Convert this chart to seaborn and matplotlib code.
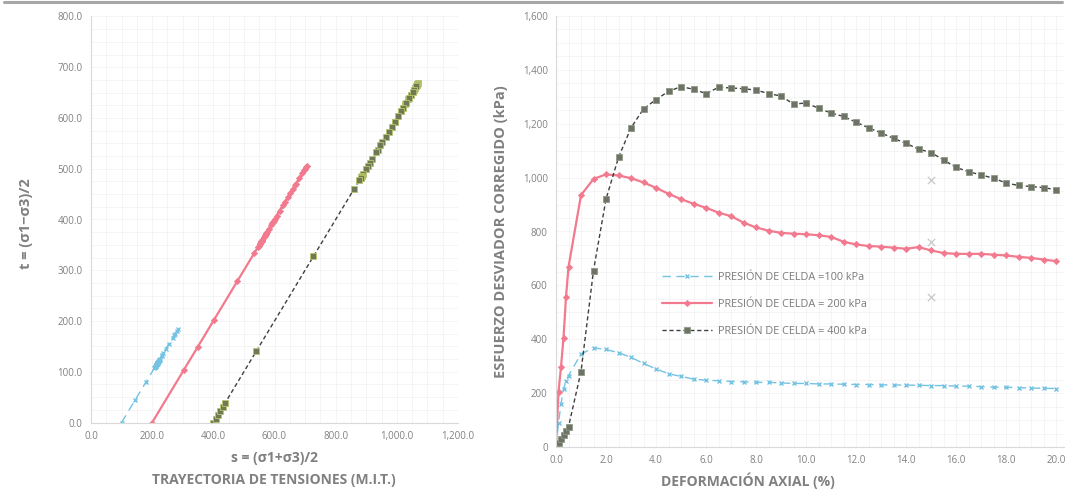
import matplotlib
matplotlib.use('Agg')
import matplotlib.pyplot as plt
import seaborn as sns
import numpy as np
import pandas as pd
from matplotlib.ticker import FuncFormatter, MultipleLocator, AutoMinorLocator
from matplotlib.lines import Line2D

# strain (%) and corrected deviator stress (kPa) for the three cell pressures
strain = [0, 0.1, 0.2, 0.3, 0.4, 0.5, 1.0, 1.5, 2.0, 2.5, 3.0, 3.5, 4.0, 4.5,
          5.0, 5.5, 6.0, 6.5, 7.0, 7.5, 8.0, 8.5, 9.0, 9.5, 10.0, 10.5, 11.0,
          11.5, 12.0, 12.5, 13.0, 13.5, 14.0, 14.5, 15.0, 15.5, 16.0, 16.5,
          17.0, 17.5, 18.0, 18.5, 19.0, 19.5, 20.0]
q100 = [0, 90, 160, 215, 245, 265, 345, 368, 362, 350, 333, 310, 290, 272,
        262, 252, 248, 246, 243, 242, 240, 240, 238, 236, 236, 234, 234,
        233, 232, 232, 231, 230, 230, 229, 228, 228, 226, 226,
        224, 222, 222, 220, 219, 218, 217]
q200 = [0, 205, 297, 405, 557, 668, 935, 995, 1012, 1008, 998, 982, 962, 940,
        920, 903, 888, 870, 857, 833, 815, 803, 795, 792, 790, 786, 780,
        762, 752, 746, 744, 740, 736, 742, 730, 720, 717, 717,
        717, 714, 711, 706, 702, 696, 690]
q400 = [0, 15, 30, 45, 60, 75, 280, 655, 920, 1075, 1185, 1255, 1290, 1320,
        1338, 1328, 1312, 1335, 1333, 1330, 1325, 1312, 1303, 1273, 1277, 1258, 1240,
        1227, 1206, 1185, 1166, 1146, 1127, 1106, 1093, 1066, 1038, 1022,
        1010, 998, 980, 971, 967, 963, 955]
cell_pressures = [100, 200, 400]
labels = ["PRESIÓN DE CELDA =100 kPa", "PRESIÓN DE CELDA = 200 kPa",
          "PRESIÓN DE CELDA = 400 kPa"]

# stray grey markers near 15 %
stray_x = [15, 15, 15]
stray_y = [990, 760, 555]

sns.set_theme(style="white")
plt.rcParams['font.family'] = ['Open Sans', 'DejaVu Sans']

GREY_TXT = '#808080'
SPINE = '#d9d9d9'
GRID = '#f1f1f1'

styles = [
    dict(color='#74c3e3', linestyle=(0, (6, 4)), lw=1.0, marker='x', markersize=3.5,
         markeredgecolor='#74c3e3', markeredgewidth=1.0),
    dict(color='#f27a8e', linestyle='-', lw=1.6, marker='D', markersize=3.2,
         markeredgecolor='#f27a8e', markeredgewidth=0.5),
    dict(color='#3f3f3f', linestyle=(0, (3, 2)), lw=1.0, marker='s', markersize=4,
         markerfacecolor='#6d7366', markeredgecolor='#8e9a84', markeredgewidth=0.6),
]

fig = plt.figure(figsize=(10.65, 4.94), dpi=100)
ax1 = fig.add_axes([91 / 1065, (494 - 422.5) / 494, 367 / 1065, 406 / 494])
ax2 = fig.add_axes([556 / 1065, (494 - 447) / 494, 509 / 1065, 431 / 494])

# ---- left: stress path (s, t) ----
for q, s3, st in zip([q100, q200, q400], cell_pressures, styles):
    q = np.array(q, dtype=float)
    df = pd.DataFrame({"s": s3 + q / 2, "t": q / 2})
    kw = dict(st)
    if s3 == 400:
        kw.update(markerfacecolor='#6f7a55', markeredgecolor='#b8c66e', markersize=4.5)
    sns.lineplot(data=df, x="s", y="t", sort=False, estimator=None, ax=ax1, **kw)

ax1.set_xlim(0, 1200)
ax1.set_ylim(0, 800)
ax1.xaxis.set_major_locator(MultipleLocator(200))
ax1.yaxis.set_major_locator(MultipleLocator(100))
ax1.xaxis.set_major_formatter(FuncFormatter(lambda v, p: f"{v:,.1f}"))
ax1.yaxis.set_major_formatter(FuncFormatter(lambda v, p: f"{v:,.1f}"))
ax1.set_xlabel("")
ax1.set_ylabel("t = (σ1−σ3)/2", color=GREY_TXT, fontsize=10.5, fontweight='bold')
ax1.yaxis.set_label_coords((33 - 91) / 367, 0.49)

# ---- right: deviator stress vs axial strain ----
for q, st, lab in zip([q100, q200, q400], styles, labels):
    df = pd.DataFrame({"strain": strain, "q": q})
    sns.lineplot(data=df, x="strain", y="q", sort=False, estimator=None, ax=ax2,
                 label=lab, **st)
ax2.scatter(stray_x, stray_y, marker='x', s=28, color='#c8c8c8', linewidths=0.9, zorder=3)

ax2.set_xlim(0, 20.36)
ax2.set_ylim(0, 1600)
ax2.xaxis.set_major_locator(MultipleLocator(2))
ax2.yaxis.set_major_locator(MultipleLocator(200))
ax2.xaxis.set_major_formatter(FuncFormatter(lambda v, p: f"{v:.1f}"))
ax2.yaxis.set_major_formatter(FuncFormatter(lambda v, p: f"{v:,.0f}"))
ax2.set_xlabel("")
ax2.set_ylabel("ESFUERZO DESVIADOR CORREGIDO (kPa)", color=GREY_TXT, fontsize=10.5,
               fontweight='bold')
ax2.yaxis.set_label_coords((508 - 556) / 509, 0.5)

leg = ax2.legend(loc='upper left', bbox_to_anchor=(0.19, 0.428), frameon=False,
                 fontsize=7.8, labelspacing=1.45, handlelength=4.6, handletextpad=0.5)
for t in leg.get_texts():
    t.set_color('#7a7a7a')

for ax in (ax1, ax2):
    for side in ('top', 'right'):
        ax.spines[side].set_visible(False)
    for side in ('left', 'bottom'):
        ax.spines[side].set_color(SPINE)
        ax.spines[side].set_linewidth(0.8)
    ax.tick_params(axis='both', labelsize=7, colors=GREY_TXT, length=0, pad=6)
    ax.xaxis.set_minor_locator(AutoMinorLocator(4))
    ax.yaxis.set_minor_locator(AutoMinorLocator(4))
    ax.grid(True, which='both', color=GRID, lw=0.5)
    ax.set_axisbelow(True)

fig.text(274 / 1065, 1 - 458 / 494, "s = (σ1+σ3)/2", ha='center', va='center',
         color=GREY_TXT, fontsize=10, fontweight='bold')
fig.text(274 / 1065, 1 - 480 / 494, "TRAYECTORIA DE TENSIONES (M.I.T.)", ha='center',
         va='center', color=GREY_TXT, fontsize=10, fontweight='bold')
fig.text(748 / 1065, 1 - 481 / 494, "DEFORMACIÓN AXIAL (%)", ha='center', va='center',
         color=GREY_TXT, fontsize=10, fontweight='bold')

# top frame edge
fig.add_artist(Line2D([0.004, 0.997], [0.995, 0.995], transform=fig.transFigure,
                      color='#a6a6a6', lw=2.2))

plt.savefig("out.png", dpi=100)
plt.close()
